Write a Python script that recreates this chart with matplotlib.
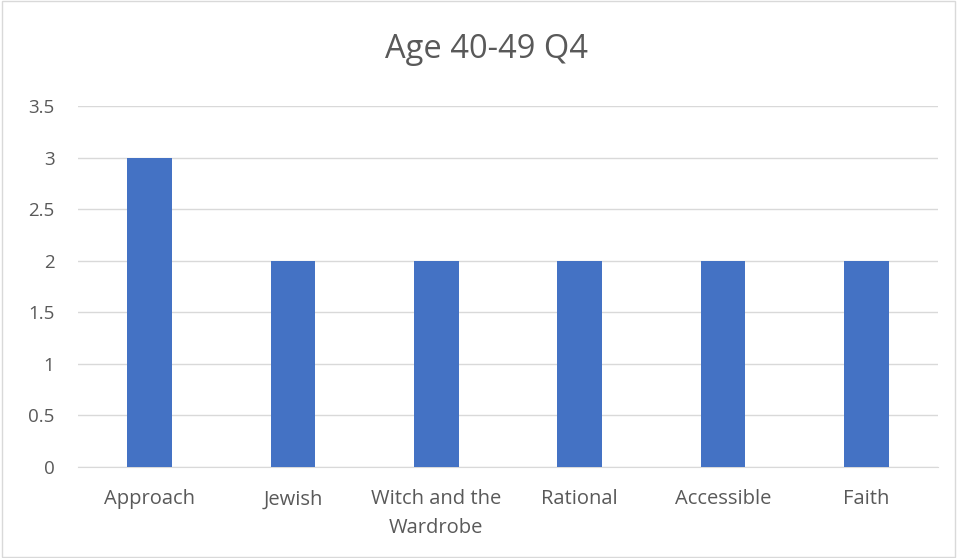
import matplotlib
matplotlib.use("Agg")
import matplotlib.pyplot as plt
from matplotlib.patches import Rectangle

categories = ["Approach", "Jewish", "Witch and the\nWardrobe", "Rational", "Accessible", "Faith"]
values = [3, 2, 2, 2, 2, 2]
yticks = [0, 0.5, 1, 1.5, 2, 2.5, 3, 3.5]
ytick_labels = ["0", "0.5", "1", "1.5", "2", "2.5", "3", "3.5"]
title = "Age 40-49 Q4"

plt.rcParams['font.family'] = ['Open Sans', 'DejaVu Sans']
fig = plt.figure(figsize=(9.57, 5.58), dpi=100)
ax = fig.add_axes([78/957, 1-467/558, 860/957, 361/558])
x = list(range(len(categories)))
ax.bar(x, values, width=0.31, color="#4472C4", zorder=3)
ax.set_xlim(-0.5, len(categories)-0.5)
ax.set_ylim(0, 3.5)
ax.set_yticks(yticks)
ax.set_yticklabels(ytick_labels, fontsize=13.5)
ax.set_xticks(x)
ax.set_xticklabels(categories, linespacing=1.6, fontsize=14.5)
ax.grid(axis='y', color="#d9d9d9", linewidth=1, zorder=0)
for s in ["top", "right", "left"]:
    ax.spines[s].set_visible(False)
ax.spines["bottom"].set_color("#d9d9d9")
ax.tick_params(axis='both', length=0, colors="#595959")
ax.tick_params(axis='x', pad=16)
ax.tick_params(axis='y', pad=17)
fig.text(487/957, 1-50/558, title, ha='center', va='center', fontsize=23.5, color="#595959")
fig.patches.append(Rectangle((0.002, 0.002), 0.996, 0.996, transform=fig.transFigure,
                             fill=False, edgecolor="#d9d9d9", linewidth=1))
fig.savefig("out.png", dpi=100)
